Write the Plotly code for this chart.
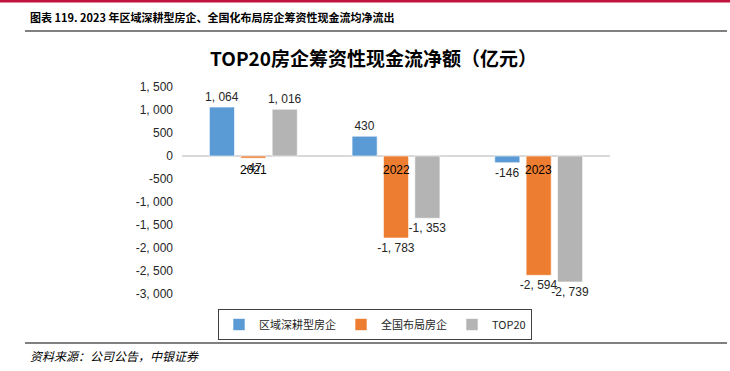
import plotly.graph_objects as go

# ---- data ----
categories = ["2021", "2022", "2023"]
series_names = ["区域深耕型房企", "全国布局房企", "TOP20"]
regional = [1064, 430, -146]
national = [-47, -1783, -2594]
top20 = [1016, -1353, -2739]
tick_vals = [1500, 1000, 500, 0, -500, -1000, -1500, -2000, -2500, -3000]
tick_text = ["1, 500", "1, 000", "500", "0", "-500", "-1, 000", "-1, 500", "-2, 000", "-2, 500", "-3, 000"]

fig_title = "图表 119. 2023 年区域深耕型房企、全国化布局房企筹资性现金流均净流出"
chart_title = "TOP20房企筹资性现金流净额（亿元）"
source_text = "资料来源：公司公告，中银证券"
colors = ["#5B9BD5", "#ED7D31", "#B4B4B4"]

# ---- layout geometry (pixels) ----
W, H = 730, 371
L, R, T, B = 182, 120, 87, 77
PW, PH = W - L - R, H - T - B


def px(x):
    return (x - L) / PW


def py(y):
    return (H - B - y) / PH


def fmt(v):
    return f"{v:,}".replace(",", ", ")


fig = go.Figure()
for name, vals, c in zip(series_names, [regional, national, top20], colors):
    fig.add_trace(go.Bar(
        x=categories, y=vals, name=name,
        marker=dict(color=c, line=dict(color="rgba(255,255,255,0.6)", width=1)),
        text=[fmt(v) for v in vals], textposition="outside",
        textfont=dict(size=12, color="#262626", family="Liberation Sans"),
        constraintext="none", cliponaxis=False,
    ))

annotations = []
# category labels near zero line (x given as category index)
for i, c in enumerate(categories):
    annotations.append(dict(x=i, y=0, xref="x", yref="y", text=c, showarrow=False,
                            yanchor="middle", yshift=-14,
                            font=dict(size=12, color="#000000", family="Liberation Sans")))
# figure title
annotations.append(dict(x=px(28), y=py(17), xref="paper", yref="paper", text="<b>" + fig_title + "</b>",
                        showarrow=False, xanchor="left", yanchor="middle",
                        font=dict(size=11, color="#000000", family="Noto Sans CJK SC")))
# chart title
annotations.append(dict(x=px(373), y=py(57), xref="paper", yref="paper", text="<b>" + chart_title + "</b>",
                        showarrow=False, xanchor="center", yanchor="middle",
                        font=dict(size=19, color="#000000", family="Noto Sans CJK SC")))
# source
annotations.append(dict(x=px(28), y=py(355), xref="paper", yref="paper", text="<i>" + source_text + "</i>",
                        showarrow=False, xanchor="left", yanchor="middle",
                        font=dict(size=12, color="#000000", family="Noto Sans CJK SC")))

shapes = [
    dict(type="line", xref="paper", yref="paper", x0=px(0), x1=px(730), y0=py(1), y1=py(1),
         line=dict(color="#C0143C", width=3)),
    dict(type="line", xref="paper", yref="paper", x0=px(25), x1=px(727), y0=py(31), y1=py(31),
         line=dict(color="#808080", width=2)),
    dict(type="line", xref="paper", yref="paper", x0=px(25), x1=px(727), y0=py(343), y1=py(343),
         line=dict(color="#808080", width=2)),
]

fig.update_layout(
    width=W, height=H,
    margin=dict(l=L, r=R, t=T, b=B, pad=0),
    paper_bgcolor="white", plot_bgcolor="white",
    barmode="group", bargap=0.34, bargroupgap=0.2,
    showlegend=True,
    legend=dict(orientation="h", x=px(375), xanchor="center", y=py(309), yanchor="top",
                bordercolor="#404040", borderwidth=1,
                font=dict(size=11, color="#262626", family="Noto Sans CJK SC"),
                itemwidth=30, traceorder="normal"),
    annotations=annotations,
    shapes=shapes,
    xaxis=dict(type="category", range=[-0.5, len(categories) - 0.5], showticklabels=False,
               showline=False, showgrid=False, zeroline=False,
               categoryorder="array", categoryarray=categories),
    yaxis=dict(range=[-3000, 1500], tickvals=tick_vals, ticktext=tick_text, showgrid=False,
               zeroline=True, zerolinecolor="#D9D9D9", zerolinewidth=1.5, showline=False,
               ticks="", ticklabelstandoff=8,
               tickfont=dict(size=12, color="#262626", family="Liberation Sans")),
)

fig.write_html("out.html", config={"displayModeBar": False},
               post_script="document.body.style.margin='0';document.body.style.overflow='hidden';")
